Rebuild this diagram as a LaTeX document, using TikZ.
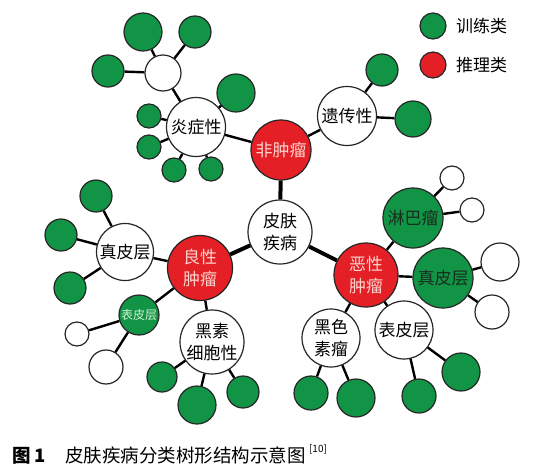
\documentclass[tikz,border=0pt]{standalone}
\usepackage{fontspec}
\usetikzlibrary{positioning}
\newfontfamily\cjk{Noto Sans CJK SC}
\definecolor{traingreen}{RGB}{18,148,70}
\definecolor{inferred}{RGB}{228,32,38}
\definecolor{palered}{RGB}{250,212,205}
\definecolor{palegreen}{RGB}{205,240,210}
\definecolor{darktext}{RGB}{25,45,30}

\begin{document}
\begin{tikzpicture}[x=1pt, y=-1pt,
    cls/.style={circle, draw=black!85, line width=1.2pt, inner sep=0pt, align=center,
      font=\cjk\fontsize{17}{22}\selectfont},
    plain/.style={cls, fill=white},
    train/.style={cls, fill=traingreen, text=darktext},
    infer/.style={cls, fill=inferred, text=palered},
    link/.style={line width=2.4pt},
    trunk/.style={line width=4pt}]
\useasboundingbox (0,0) rectangle (536,474);

% nodes --- centre and the three kinds
\node[plain, minimum size=64] (root) at (280,232) {皮肤\\疾病};
\node[infer, minimum size=60] (fz) at (281,150) {非肿瘤};
\node[infer, minimum size=65] (lx) at (200,268) {良性\\肿瘤};
\node[infer, minimum size=64] (ex) at (366,275) {恶性\\肿瘤};

% non-tumour branch
\node[plain, minimum size=59] (yz) at (196,127) {炎症性};
\node[plain, minimum size=59] (yc) at (347,116) {遗传性};
\node[plain, minimum size=36] (yzw) at (163,73) {};
\node[train, minimum size=38] (yzw1) at (143,32) {};
\node[train, minimum size=32] (yzw2) at (195,32) {};
\node[train, minimum size=32] (yzw3) at (108,71) {};
\node[train, minimum size=38] (yz1) at (236,93) {};
\node[train, minimum size=24] (yz2) at (149,116) {};
\node[train, minimum size=24] (yz3) at (149,147) {};
\node[train, minimum size=24] (yz4) at (174,170) {};
\node[train, minimum size=24] (yz5) at (211,169) {};
\node[train, minimum size=32] (yc1) at (382,70) {};
\node[train, minimum size=36] (yc2) at (413,119) {};

% benign branch
\node[plain, minimum size=57] (lzp) at (125,252) {真皮层};
\node[train, minimum size=32] (lzp1) at (96,196) {};
\node[train, minimum size=32] (lzp2) at (61,235) {};
\node[train, minimum size=32] (lzp3) at (70,288) {};
\node[train, minimum size=40, text=palegreen, font=\cjk\fontsize{12}{14}\selectfont] (lbp) at (139,315) {表皮层};
\node[plain, minimum size=24] (lbp1) at (77,334) {};
\node[plain, minimum size=34] (lbp2) at (106,367) {};
\node[plain, minimum size=64] (lhs) at (212,342) {黑素\\细胞性};
\node[train, minimum size=30] (lhs1) at (162,377) {};
\node[train, minimum size=38] (lhs2) at (197,405) {};
\node[train, minimum size=32] (lhs3) at (243,392) {};

% malignant branch
\node[train, minimum size=60] (elb) at (413,218) {淋巴瘤};
\node[plain, minimum size=24] (elb1) at (452,178) {};
\node[plain, minimum size=24] (elb2) at (472,210) {};
\node[train, minimum size=60] (ezp) at (443,278) {真皮层};
\node[plain, minimum size=38] (ezp1) at (500,262) {};
\node[plain, minimum size=34] (ezp2) at (492,312) {};
\node[plain, minimum size=58] (ebp) at (404,330) {表皮层};
\node[train, minimum size=38] (ebp1) at (461,372) {};
\node[train, minimum size=34] (ebp2) at (419,396) {};
\node[plain, minimum size=58] (ehm) at (331,338) {黑色\\素瘤};
\node[train, minimum size=34] (ehm1) at (311,393) {};
\node[train, minimum size=38] (ehm2) at (356,398) {};

% connectors ---
\draw[trunk] (root) -- (fz);
\draw[trunk] (root) -- (lx);
\draw[trunk] (root) -- (ex);
\draw[link] (fz) -- (yz);
\draw[link] (fz) -- (yc);
\foreach \a/\b in {yz/yzw, yzw/yzw1, yzw/yzw2, yzw/yzw3, yz/yz1, yz/yz2, yz/yz3, yz/yz4, yz/yz5,
    yc/yc1, yc/yc2,
    lx/lzp, lzp/lzp1, lzp/lzp2, lzp/lzp3, lx/lbp, lbp/lbp1, lbp/lbp2, lx/lhs, lhs/lhs1, lhs/lhs2, lhs/lhs3,
    ex/elb, elb/elb1, elb/elb2, ex/ezp, ezp/ezp1, ezp/ezp2, ex/ebp, ebp/ebp1, ebp/ebp2, ex/ehm, ehm/ehm1, ehm/ehm2}
  \draw[link] (\a) -- (\b);

% legend ---
\node[train, minimum size=26] (lgg) at (433,26) {};
\node[infer, minimum size=26] (lgr) at (433,65) {};
\node[right=6pt of lgg, font=\cjk\fontsize{17}{20}\selectfont] (lggt) {训练类};
\node[right=6pt of lgr, font=\cjk\fontsize{17}{20}\selectfont] (lgrt) {推理类};

% caption ---
\node[anchor=base west, inner sep=0pt, font=\cjk\bfseries\fontsize{18.5}{20}\selectfont] (fig) at (12,462) {图 1};
\node[anchor=base west, inner sep=0pt, font=\cjk\fontsize{18.5}{20}\selectfont] (cap) at (65,462) {皮肤疾病分类树形结构示意图};
\node[anchor=base west, inner sep=0pt, font=\cjk\fontsize{10}{12}\selectfont] (ref) at (cap.base east) [yshift=10pt, xshift=3pt] {[10]};

\end{tikzpicture}
\end{document}
